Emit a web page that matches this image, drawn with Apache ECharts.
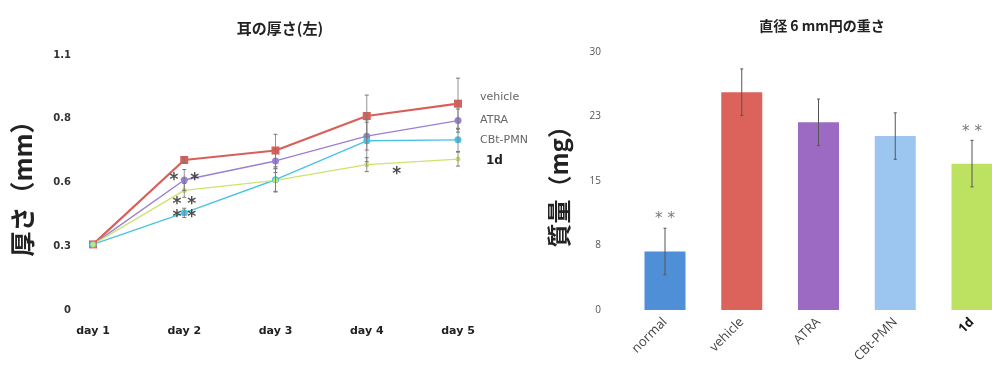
<!DOCTYPE html>
<html><head><meta charset="utf-8">
<script src="https://cdn.jsdelivr.net/npm/echarts@6/dist/echarts.min.js"></script>
<style>html,body{margin:0;padding:0;background:#fff}#c{width:992px;height:379px}</style>
</head><body><div id="c"></div>
<script>
// ---- Line chart data (耳の厚さ) ----
const days = ["day 1", "day 2", "day 3", "day 4", "day 5"];
const lineNames = ["vehicle", "ATRA", "CBt-PMN", "1d"];
const vehicleVals = [0.283, 0.647, 0.688, 0.837, 0.890];
const atraVals    = [0.283, 0.561, 0.643, 0.750, 0.817];
const cbtVals     = [0.283, 0.419, 0.562, 0.730, 0.734];
const oneDVals    = [0.283, 0.516, 0.559, 0.627, 0.651];
const vehicleErr  = [0, 0.012, 0.07, 0.09, 0.11];
const atraErr     = [0, 0.045, 0.05, 0.06, 0.05];
const cbtErr      = [0, 0.02, 0.05, 0.09, 0.05];
const oneDErr     = [0, 0.03, 0.05, 0.03, 0.03];
const lineTickLabels = ["0", "0.3", "0.6", "0.8", "1.1"];
const lineStars = [[1, 0.56, "*  *"], [1, 0.455, "* *"], [1, 0.40, "* *"], [3, 0.583, "*"]];

// ---- Bar chart data (直径6mm円の重さ) ----
const groups = ["normal", "vehicle", "ATRA", "CBt-PMN", "1d"];
const weights = [6.8, 25.3, 21.8, 20.2, 17.0];
const weightErr = [2.7, 2.7, 2.7, 2.7, 2.7];
const barTickLabels = ["0", "8", "15", "23", "30"];
const barStars = [[0, 11.0, "* *"], [4, 21.1, "* *"]];

const lineColors = ["#d9605a", "#9a80d2", "#4cc2e2", "#cde36e"];
const barColors = ["#4f8fd8", "#dc625c", "#9c6ac2", "#9cc6f0", "#bde261"];

const lineSets = [vehicleVals, atraVals, cbtVals, oneDVals];
const errSets = [vehicleErr, atraErr, cbtErr, oneDErr];
const labelOffsets = [[14, -7], [14, 0], [14, 0], [20, 2]];

function errSeries(xIdx, yIdx, vals, errs, color, width, cap) {
  return {
    type: 'custom', xAxisIndex: xIdx, yAxisIndex: yIdx, z: 5, silent: true,
    data: vals.map((v, i) => [i, v, errs[i]]),
    renderItem: function (params, api) {
      const x = api.value(0), v = api.value(1), e = api.value(2);
      if (!e) return null;
      const top = api.coord([x, v + e]), bot = api.coord([x, v - e]);
      return { type: 'group', children: [
        { type: 'line', shape: { x1: top[0], y1: top[1], x2: bot[0], y2: bot[1] }, style: { stroke: color, lineWidth: width } },
        { type: 'line', shape: { x1: top[0] - cap, y1: top[1], x2: top[0] + cap, y2: top[1] }, style: { stroke: color, lineWidth: 1 } },
        { type: 'line', shape: { x1: bot[0] - cap, y1: bot[1], x2: bot[0] + cap, y2: bot[1] }, style: { stroke: color, lineWidth: 1 } }
      ]};
    }
  };
}

const series = [];
lineSets.forEach((vals, k) => {
  series.push({
    type: 'line', name: lineNames[k], xAxisIndex: 0, yAxisIndex: 0, z: 3,
    data: vals, symbol: k === 0 ? 'rect' : 'circle', symbolSize: k === 0 ? 8 : (k === 3 ? 5 : 7),
    lineStyle: { color: lineColors[k], width: k === 0 ? 2.2 : 1.4 },
    itemStyle: { color: lineColors[k] },
    endLabel: {
      show: true, formatter: lineNames[k], offset: labelOffsets[k],
      fontFamily: 'DejaVu Sans', fontSize: k === 3 ? 12 : 11,
      fontWeight: k === 3 ? 'bold' : 'normal', color: k === 3 ? '#222' : '#666'
    }
  });
  series.push(errSeries(0, 0, vals, errSets[k], '#777', 0.8, 2));
});
series.push({
  type: 'scatter', xAxisIndex: 0, yAxisIndex: 0, symbolSize: 0, z: 6,
  data: lineStars.map(s => ({ value: [s[0], s[1]], name: s[2] })),
  label: { show: true, position: 'inside', formatter: p => p.name, fontSize: 17, fontWeight: 'bold', color: '#222', fontFamily: 'DejaVu Sans',
    offset: [0, 5] },
  labelLayout: function (p) { return p.dataIndex === 3 ? { dx: 30 } : { dx: 0 }; }
});

series.push({
  type: 'bar', xAxisIndex: 1, yAxisIndex: 1, barWidth: 41,
  data: weights.map((w, i) => ({ value: w, itemStyle: { color: barColors[i] } }))
});
series.push(errSeries(1, 1, weights, weightErr, '#555', 1, 1.5));
series.push({
  type: 'scatter', xAxisIndex: 1, yAxisIndex: 1, symbolSize: 0, z: 6,
  data: barStars.map(s => ({ value: [s[0], s[1]], name: s[2] })),
  label: { show: true, position: 'inside', formatter: p => p.name, fontSize: 15, color: '#555', fontFamily: 'DejaVu Sans', offset: [0, 4] }
});

const chart = echarts.init(document.getElementById('c'));
chart.setOption({
  animation: false,
  backgroundColor: '#fff',
  title: [
    { text: '耳の厚さ(左)', left: 275, top: 16, textAlign: 'center',
      textStyle: { fontFamily: 'Noto Sans CJK JP', fontSize: 15, fontWeight: 'bold', color: '#222' } },
    { text: '直径 6 mm円の重さ', left: 817, top: 14, textAlign: 'center',
      textStyle: { fontFamily: 'Noto Sans CJK JP', fontSize: 14, fontWeight: 'bold', color: '#222' } }
  ],
  grid: [
    { left: 93, width: 365, top: 55, height: 255 },
    { left: 665, width: 307, top: 51.7, height: 258.3 }
  ],
  xAxis: [
    { type: 'category', gridIndex: 0, data: days, boundaryGap: false,
      axisLine: { show: false }, axisTick: { show: false }, splitLine: { show: false },
      axisLabel: { margin: 16, fontFamily: 'DejaVu Sans', fontSize: 11, fontWeight: 'bold', color: '#222' } },
    { type: 'category', gridIndex: 1, data: groups, boundaryGap: false,
      axisLine: { show: false }, axisTick: { show: false }, splitLine: { show: false },
      axisLabel: { margin: 10, rotate: 45, fontFamily: 'Open Sans', fontSize: 13, color: '#444',
        formatter: v => v === '1d' ? '{b|1d}' : v,
        rich: { b: { fontWeight: 'bold', color: '#111', fontSize: 13, fontFamily: 'Open Sans' } } } }
  ],
  yAxis: [
    { type: 'value', gridIndex: 0, min: 0, max: 1.1, interval: 0.275,
      axisLine: { show: false }, axisTick: { show: false }, splitLine: { show: false },
      axisLabel: { margin: 22, fontFamily: 'DejaVu Sans', fontSize: 10, fontWeight: 'bold', color: '#333',
        formatter: (v, i) => lineTickLabels[Math.round(v / 0.275)] },
      name: '厚さ（mm）', nameLocation: 'middle', nameGap: 58, nameRotate: 90,
      nameTextStyle: { fontFamily: 'Noto Sans CJK JP', fontSize: 25, fontWeight: 'bold', color: '#222' } },
    { type: 'value', gridIndex: 1, min: 0, max: 30, interval: 7.5,
      axisLine: { show: false }, axisTick: { show: false }, splitLine: { show: false },
      axisLabel: { margin: 64, fontFamily: 'Open Sans', fontSize: 10, color: '#555',
        formatter: (v) => barTickLabels[Math.round(v / 7.5)] },
      name: '質量（mg）', nameLocation: 'middle', nameGap: 94, nameRotate: 90,
      nameTextStyle: { fontFamily: 'Noto Sans CJK JP', fontSize: 24, fontWeight: 'bold', color: '#222' } }
  ],
  series: series
});
</script></body></html>
